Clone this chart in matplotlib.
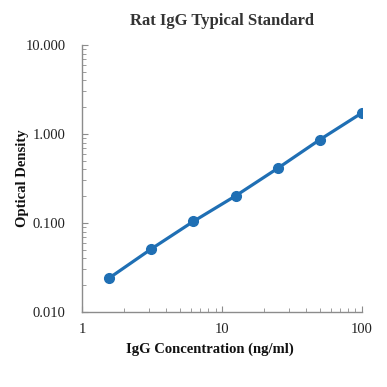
import matplotlib
matplotlib.use("Agg")
import matplotlib.pyplot as plt
from matplotlib.ticker import LogLocator, FixedLocator, FixedFormatter, NullFormatter

concentration = [1.5625, 3.125, 6.25, 12.5, 25, 50, 100]
optical_density = [0.024, 0.051, 0.104, 0.201, 0.41, 0.86, 1.72]
x_ticks = [1, 10, 100]
x_tick_labels = ["1", "10", "100"]
y_ticks = [0.01, 0.1, 1, 10]
y_tick_labels = ["0.010", "0.100", "1.000", "10.000"]

plt.rcParams['font.family'] = ['Liberation Serif', 'DejaVu Serif']

fig = plt.figure(figsize=(3.87, 3.87), dpi=100)
ax = fig.add_axes([0.212, 0.194, 0.723, 0.690])
ax.plot(concentration, optical_density, color="#1f6fb4", lw=2.3,
        marker="o", ms=7, solid_capstyle="round")
ax.set_xscale("log")
ax.set_yscale("log")
ax.set_xlim(1, 100)
ax.set_ylim(0.01, 10)

ax.xaxis.set_major_locator(FixedLocator(x_ticks))
ax.xaxis.set_major_formatter(FixedFormatter(x_tick_labels))
ax.yaxis.set_major_locator(FixedLocator(y_ticks))
ax.yaxis.set_major_formatter(FixedFormatter(y_tick_labels))
ax.xaxis.set_minor_locator(LogLocator(base=10, subs=range(2, 10)))
ax.yaxis.set_minor_locator(LogLocator(base=10, subs=range(2, 10)))
ax.xaxis.set_minor_formatter(NullFormatter())
ax.yaxis.set_minor_formatter(NullFormatter())

for s in ["top", "right"]:
    ax.spines[s].set_visible(False)
for s in ["left", "bottom"]:
    ax.spines[s].set_color("#8c8c8c")
    ax.spines[s].set_linewidth(1.0)

ax.tick_params(axis="both", which="both", direction="in", color="#8c8c8c",
               labelcolor="#222222", labelsize=10.5)
ax.tick_params(axis="both", which="major", length=4)
ax.tick_params(axis="both", which="minor", length=3)
ax.tick_params(axis="y", which="both", pad=12)
ax.tick_params(axis="x", which="both", pad=8)

ax.set_title("Rat IgG Typical Standard", fontsize=12, fontweight="bold",
             color="#333333", pad=14)
ax.set_xlabel("IgG Concentration (ng/ml)", fontsize=10.5, fontweight="bold",
              color="#111111")
ax.set_ylabel("Optical Density", fontsize=10.5, fontweight="bold",
              color="#111111")
ax.xaxis.set_label_coords(0.457, -0.115)
ax.yaxis.set_label_coords(-0.19, 0.5)

fig.savefig("out.png", dpi=100)
